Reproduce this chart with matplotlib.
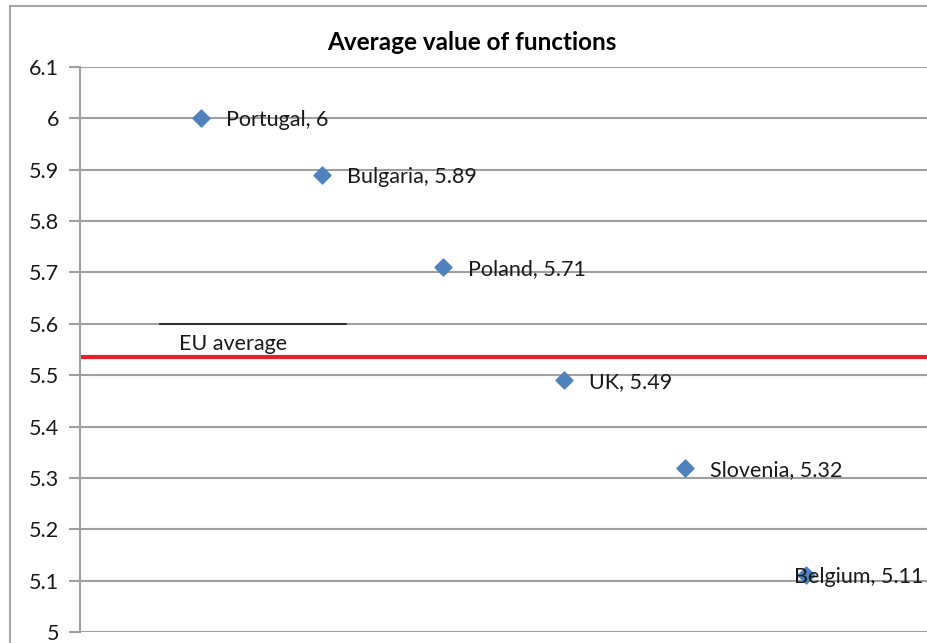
import matplotlib.pyplot as plt
from matplotlib.patches import Rectangle
import numpy as np

countries = ['Portugal', 'Bulgaria', 'Poland', 'UK', 'Slovenia', 'Belgium']
values = [6, 5.89, 5.71, 5.49, 5.32, 5.11]
eu_average = 5.535
yticks = [5, 5.1, 5.2, 5.3, 5.4, 5.5, 5.6, 5.7, 5.8, 5.9, 6, 6.1]
ytick_labels = ['5', '5.1', '5.2', '5.3', '5.4', '5.5', '5.6', '5.7', '5.8', '5.9', '6', '6.1']

plt.rcParams['font.family'] = ['Lato', 'DejaVu Sans']

fig = plt.figure(figsize=(9.27, 6.43), dpi=100)
ax = fig.add_axes([80 / 927, 1 - 632 / 643, 1 - 80 / 927, (632 - 67) / 643])

# outer chart frame, cut off on the right and bottom like the screenshot
top = 1 - 6 / 643
fig.patches.append(Rectangle((10 / 927, -0.1), 2, top + 0.1,
                             transform=fig.transFigure, fill=False,
                             edgecolor='#a6a6a6', linewidth=1.5, zorder=0))

xs = np.arange(1, len(values) + 1)
ax.set_xlim(0, 7)
ax.set_ylim(5, 6.1)
ax.set_yticks(yticks)
ax.set_yticklabels(ytick_labels)
ax.set_xticks([])
ax.grid(axis='y', color='#a0a0a0', linewidth=1.5)
ax.set_axisbelow(True)
for s in ['top', 'right', 'bottom']:
    ax.spines[s].set_visible(False)
ax.spines['left'].set_color('#a0a0a0')
ax.spines['left'].set_linewidth(1.5)
ax.tick_params(axis='y', length=8, width=1.5, color='#a0a0a0', labelsize=15.5, pad=7, labelcolor='#1a1a1a')

ax.axhline(eu_average, color='#e8202a', linewidth=3, zorder=2)
ax.plot([0.66, 2.2], [5.6, 5.6], color='#1a1a1a', linewidth=1.2, zorder=2)
ax.text(0.82, 5.565, 'EU average', fontsize=15.5, color='#1a1a1a', va='center_baseline', ha='left')

ax.scatter(xs, values, marker='D', s=75, color='#4f81bd', zorder=3, clip_on=False)
for i, (c, v) in enumerate(zip(countries, values)):
    dx = 18 if i < len(values) - 1 else -9
    ax.annotate('{}, {}'.format(c, v), (xs[i], v), xytext=(dx, 0),
                textcoords='offset points', fontsize=15.5, color='#1a1a1a',
                va='center_baseline', ha='left', annotation_clip=False, zorder=4)

fig.text(472 / 927, 1 - 42 / 643, 'Average value of functions', fontsize=17.5,
         fontweight='bold', ha='center', va='center', color='#000000')

fig.savefig('out.png', dpi=100)
